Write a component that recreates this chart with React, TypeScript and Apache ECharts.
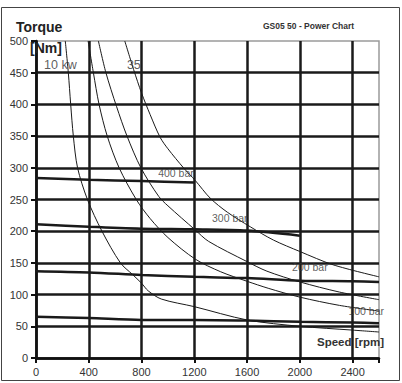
import React, { useEffect, useRef } from "react";
import * as echarts from "echarts";

// Speed axis (rpm) and torque axis (Nm)
const xTickValues = [0, 400, 800, 1200, 1600, 2000, 2400];
const yTickValues = [0, 50, 100, 150, 200, 250, 300, 350, 400, 450, 500];

// Power curves [rpm, Nm]
const power10kW: [number, number][] = [
  [222, 500], [245, 450], [263, 400], [283, 350], [315, 300], [390, 250],
  [500, 200], [640, 150], [730, 132], [800, 118], [850, 106], [950, 93],
  [1200, 81], [1600, 60], [2000, 50], [2400, 44], [2600, 41],
];
const power20kW: [number, number][] = [
  [395, 500], [435, 450], [478, 400], [540, 350], [630, 300], [760, 250],
  [865, 220], [1000, 190], [1207, 156], [1400, 136], [1600, 121], [1760, 110],
  [2000, 96], [2300, 83], [2600, 74],
];
const power25kW: [number, number][] = [
  [473, 500], [530, 450], [610, 397], [690, 350], [795, 300], [930, 255],
  [1000, 240], [1207, 202], [1308, 184], [1600, 152], [1750, 137], [2000, 120],
  [2300, 104], [2600, 92],
];
const power35kW: [number, number][] = [
  [673, 500], [740, 455], [800, 418], [865, 384], [941, 348], [1000, 330],
  [1118, 300], [1207, 280], [1321, 252], [1450, 230], [1624, 207], [1800, 186],
  [2000, 168], [2252, 147], [2600, 128],
];

// Torque at pressure [rpm, Nm]
const bar400: [number, number][] = [[0, 284], [400, 281], [800, 279], [1200, 277]];
const bar300: [number, number][] = [[0, 211], [400, 207], [800, 204], [1200, 203], [1600, 201], [2000, 193]];
const bar200: [number, number][] = [[0, 137], [400, 135], [800, 131], [1200, 128], [1600, 126], [2000, 122], [2400, 121], [2600, 120]];
const bar100: [number, number][] = [[0, 65], [400, 63], [800, 60], [1200, 60], [1600, 59], [2000, 57], [2400, 56], [2600, 55]];

// Annotations [rpm, Nm, text, fontSize]
const annotations: [number, number, string, number][] = [
  [61, 462, "10 kw", 12.5],
  [689, 462, "35", 12.5],
  [926, 292, "400 bar", 10.5],
  [1334, 221, "300 bar", 10.5],
  [1941, 144, "200 bar", 10.5],
  [2368, 74, "100 bar", 10.5],
];

const FONT = 'Arial, "Liberation Sans", sans-serif';

export default function App() {
  const ref = useRef<HTMLDivElement>(null);
  useEffect(() => {
    if (!ref.current) return;
    const chart = echarts.init(ref.current, undefined, { renderer: "svg" });
    const thin = (data: [number, number][], name: string) => ({
      type: "line",
      name,
      data,
      smooth: 0.3,
      showSymbol: false,
      symbol: "none",
      lineStyle: { color: "#1a1a1a", width: 1 },
      z: 3,
    });
    const thick = (data: [number, number][], name: string) => ({
      type: "line",
      name,
      data,
      smooth: 0.3,
      showSymbol: false,
      symbol: "none",
      lineStyle: { color: "#1a1a1a", width: 2.5 },
      z: 4,
    });
    chart.setOption({
      animation: false,
      backgroundColor: "#ffffff",
      grid: {
        left: 36,
        right: 23,
        top: 41,
        bottom: 25,
        show: true,
        borderColor: "#9a9a9a",
        borderWidth: 1.5,
        backgroundColor: "transparent",
      },
      xAxis: {
        type: "value",
        min: 0,
        max: 2600,
        interval: 400,
        axisLine: { show: true, lineStyle: { color: "#111", width: 2.5 } },
        axisTick: { show: true, length: 5, lineStyle: { color: "#111", width: 2 } },
        axisLabel: {
          color: "#333",
          fontSize: 11,
          fontFamily: FONT,
          margin: 8,
          formatter: (v: number) => (xTickValues.includes(v) ? String(v) : ""),
        },
        splitLine: { show: true, showMaxLine: false, lineStyle: { color: "#1a1a1a", width: 2.5 } },
      },
      yAxis: {
        type: "value",
        min: 0,
        max: 500,
        interval: 50,
        axisLine: { show: true, lineStyle: { color: "#111", width: 2.5 } },
        axisTick: { show: true, length: 5, lineStyle: { color: "#111", width: 2 } },
        axisLabel: {
          color: "#333",
          fontSize: 11,
          fontFamily: FONT,
          margin: 8,
          formatter: (v: number) => (yTickValues.includes(v) ? String(v) : ""),
        },
        splitLine: { show: true, showMaxLine: false, lineStyle: { color: "#1a1a1a", width: 2.5 } },
      },
      series: [
        thin(power10kW, "10 kW"),
        thin(power20kW, "20 kW"),
        thin(power25kW, "25 kW"),
        thin(power35kW, "35 kW"),
        thick(bar400, "400 bar"),
        thick(bar300, "300 bar"),
        thick(bar200, "200 bar"),
        thick(bar100, "100 bar"),
        {
          type: "scatter",
          name: "labels",
          data: annotations.map((a) => ({
            value: [a[0], a[1]],
            name: a[2],
            label: { fontSize: a[3] },
          })),
          symbolSize: 0,
          z: 5,
          label: {
            show: true,
            position: "right",
            distance: 0,
            formatter: (p: any) => p.name,
            color: "#333",
            fontSize: 10.5,
            fontFamily: FONT,
            align: "left",
            verticalAlign: "middle",
          },
        },
      ],
      graphic: [
        {
          type: "rect",
          shape: { x: 1.5, y: 7.5, width: 398, height: 373 },
          style: { fill: "none", stroke: "#444", lineWidth: 1 },
          z: 0,
        },
        {
          type: "text",
          left: 16,
          top: 20,
          style: { text: "Torque", font: `bold 14px ${FONT}`, fill: "#222" },
          z: 10,
        },
        {
          type: "text",
          left: 30,
          top: 41,
          style: { text: "[Nm]", font: `bold 14px ${FONT}`, fill: "#222" },
          z: 10,
        },
        {
          type: "text",
          left: 263,
          top: 21,
          style: { text: "GS05 50 - Power Chart", font: `bold 8.5px ${FONT}`, fill: "#333" },
          z: 10,
        },
        {
          type: "text",
          left: 317,
          top: 336,
          style: { text: "Speed [rpm]", font: `bold 11.5px ${FONT}`, fill: "#333" },
          z: 10,
        },
      ],
    });
    return () => chart.dispose();
  }, []);
  return (
    <div
      ref={ref}
      style={{ position: "absolute", left: 0, top: 0, width: 402, height: 383, background: "#fff" }}
    />
  );
}
